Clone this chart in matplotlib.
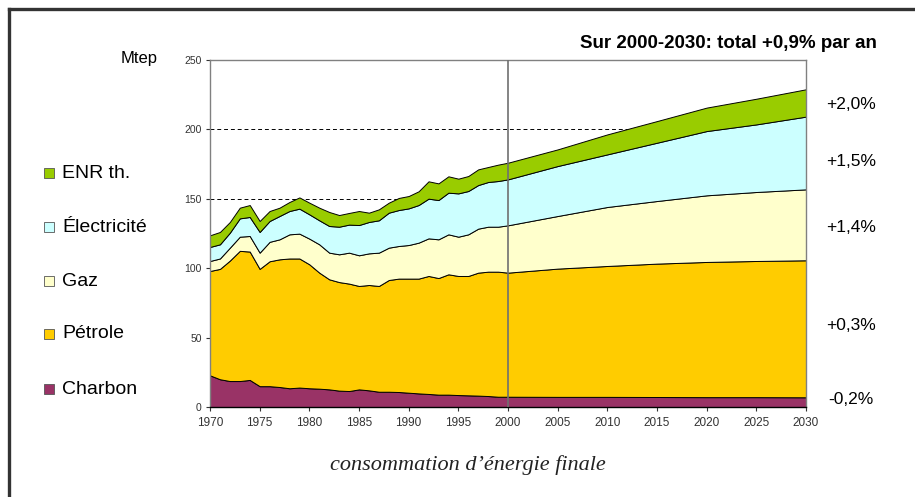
import matplotlib
matplotlib.use("Agg")
import matplotlib.pyplot as plt
from matplotlib.patches import Rectangle
from matplotlib.lines import Line2D
import numpy as np

plt.rcParams['font.family'] = ['Liberation Sans', 'DejaVu Sans']

# years: annual history 1970-2000, projection every 5 years to 2030
years = list(range(1970, 2001)) + [2005, 2010, 2015, 2020, 2025, 2030]

# Mtep per energy (layer values, not cumulative)
charbon = [22.8, 20.0, 18.7, 18.7, 19.5, 15.0, 15.0, 14.4, 13.5, 14.0,
           13.5, 13.2, 12.7, 11.8, 11.5, 12.7, 12.0, 11.0, 11.0, 10.8,
           10.3, 9.8, 9.4, 8.9, 8.9, 8.6, 8.4, 8.2, 7.9, 7.4,
           7.4, 7.3, 7.3, 7.2, 7.1, 7.1, 7.0]
petrole = [75.2, 79.5, 86.8, 93.8, 92.5, 84.5, 90.0, 92.0, 93.5, 93.0,
           89.3, 83.6, 79.3, 78.2, 77.4, 74.5, 75.9, 76.2, 80.5, 81.7,
           82.2, 82.7, 85.0, 84.0, 86.7, 85.8, 86.0, 88.6, 89.6, 90.1,
           89.4, 92.4, 94.3, 96.1, 97.4, 98.1, 98.7]
gaz = [7.2, 7.5, 9.3, 10.2, 11.2, 11.7, 14.0, 14.4, 17.4, 17.9,
       18.5, 20.4, 19.2, 20.0, 22.3, 22.1, 22.8, 24.0, 23.3, 23.5,
       24.2, 25.9, 27.1, 27.9, 28.8, 28.3, 30.0, 31.7, 32.4, 32.4,
       34.1, 37.9, 42.5, 45.1, 48.0, 49.7, 51.1]
electricite = [10.1, 10.2, 10.8, 13.2, 13.7, 14.9, 15.0, 16.8, 16.8, 18.0,
               17.5, 17.3, 19.2, 19.9, 20.2, 21.8, 22.6, 23.3, 25.2, 25.9,
               26.4, 27.1, 28.6, 28.3, 30.0, 31.2, 31.2, 31.4, 32.2, 32.9,
               33.1, 36.0, 37.9, 42.0, 46.3, 48.7, 52.4]
enr = [8.4, 8.9, 7.7, 7.7, 8.6, 7.9, 7.2, 6.0, 6.5, 8.1,
       8.4, 9.1, 10.1, 8.4, 8.4, 10.1, 6.7, 7.9, 7.2, 8.7,
       8.9, 9.9, 12.5, 12.0, 11.8, 10.6, 10.8, 11.3, 10.8, 11.8,
       12.0, 12.0, 14.4, 15.6, 16.9, 18.5, 19.7]

labels = ["Charbon", "Pétrole", "Gaz", "Électricité", "ENR th."]
colors = ["#993366", "#FFCC00", "#FFFFCC", "#CCFFFF", "#99CC00"]
growth = ["-0,2%", "+0,3%", "+1,4%", "+1,5%", "+2,0%"]

W, H = 915, 497
fig = plt.figure(figsize=(W / 100, H / 100), dpi=100)
ax = fig.add_axes([210 / W, 1 - 407 / H, 596 / W, 347 / H])

ax.stackplot(years, charbon, petrole, gaz, electricite, enr,
             colors=colors, edgecolor="black", linewidth=0.7, zorder=2)
ax.axvline(2000, color="#707070", lw=1.2, zorder=3)

ax.set_xlim(1970, 2030)
ax.set_ylim(0, 250)
ax.set_xticks(range(1970, 2031, 5))
ax.set_yticks(range(0, 251, 50))
ax.yaxis.grid(True, linestyle=(0, (4, 3)), color="black", lw=0.7)
ax.set_axisbelow(True)
ax.tick_params(axis="both", direction="out", length=3, colors="#333333", width=0.8)
ax.tick_params(axis="y", labelsize=7.5, pad=3)
ax.tick_params(axis="x", labelsize=8.5, pad=4)
for s in ["left", "top", "right"]:
    ax.spines[s].set_color("#808080")
    ax.spines[s].set_linewidth(1)
ax.spines["bottom"].set_color("black")
ax.spines["bottom"].set_linewidth(1)


def fx(x):
    return x / W


def fy(y):
    return 1 - y / H


# texts
fig.text(fx(139), fy(58), "Mtep", ha="center", va="center", fontsize=12)
fig.text(fx(877), fy(44), "Sur 2000-2030: total +0,9% par an", ha="right",
         va="center", fontsize=13.5, fontweight="bold")

label_y = [400, 325, 227, 161, 105]
for g, yy in zip(growth, label_y):
    fig.text(fx(851), fy(yy), g, ha="center", va="center", fontsize=12.5)

# legend on the left, top item is ENR
leg_y = [389, 334, 281, 227, 173]
for lab, col, yy in zip(labels, colors, leg_y):
    fig.add_artist(Rectangle((fx(44), fy(yy + 5)), 10 / W, 10 / H,
                             transform=fig.transFigure, facecolor=col,
                             edgecolor="#555555", lw=0.6))
    fig.text(fx(62), fy(yy), lab, ha="left", va="center", fontsize=14)

fig.text(fx(468), fy(465), "consommation d\u2019énergie finale", ha="center",
         va="center", fontsize=16, style="italic",
         family=["Liberation Serif", "DejaVu Serif"], color="#222222")

# outer frame (top and left)
fig.add_artist(Line2D([fx(9), fx(915)], [fy(9), fy(9)], transform=fig.transFigure,
                      color="#333333", lw=2.4))
fig.add_artist(Line2D([fx(9), fx(9)], [fy(9), fy(497)], transform=fig.transFigure,
                      color="#333333", lw=2.4))

plt.savefig("out.png", dpi=100)
